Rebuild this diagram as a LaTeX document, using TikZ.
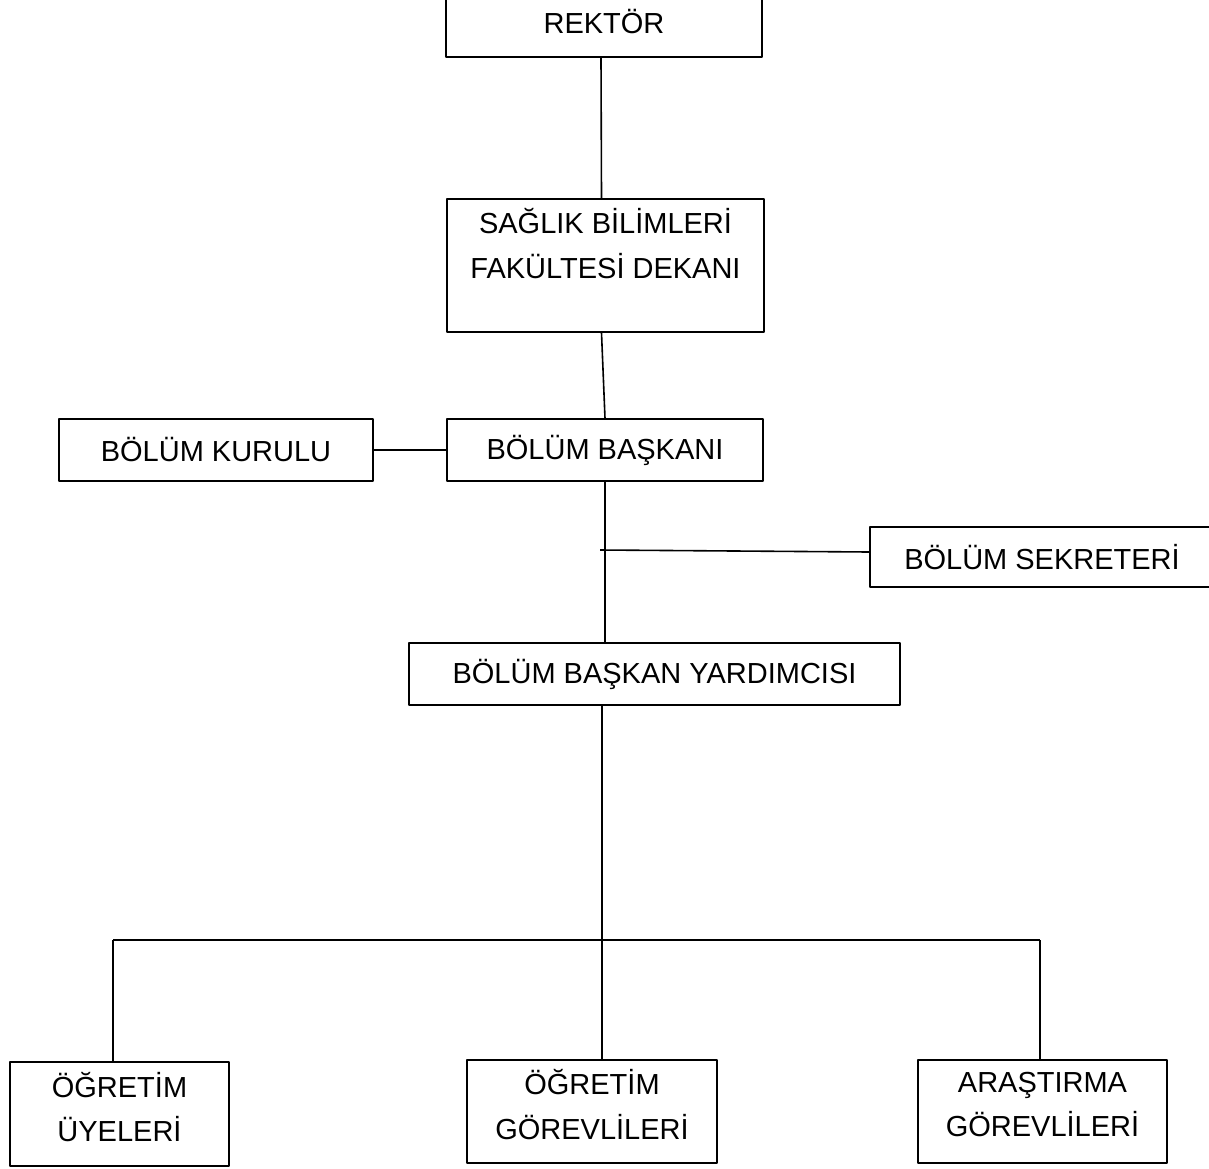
\documentclass[tikz,border=0pt]{standalone}
\usepackage{fontspec}
\setmainfont{Liberation Sans}
\begin{document}
\begin{tikzpicture}[line join=bevel,line width=1.6bp,
  box/.style={draw,inner sep=0pt,align=center,font=\fontsize{29.1}{44.5}\selectfont},
  lowbox/.style={box,text depth=14bp},
  ]
\useasboundingbox (0bp,0bp) rectangle (1209bp,-1169bp);
\clip (0bp,0bp) rectangle (1209bp,-1169bp);
%%
\node (rektor) at (604bp,-22bp) [box,minimum width=316bp,minimum height=70bp] {REKTÖR};
  \node (dekan) at (605.5bp,-265.5bp) [box,minimum width=317bp,minimum height=133bp] {SAĞLIK BİLİMLERİ\\FAKÜLTESİ DEKANI\\ };
  \node (baskan) at (605bp,-450bp) [box,minimum width=316bp,minimum height=62bp] {BÖLÜM BAŞKANI};
  \node (kurul) at (216bp,-450bp) [box,minimum width=314bp,minimum height=62bp] {BÖLÜM KURULU};
  \node (sekreter) at (1042bp,-557bp) [box,minimum width=344bp,minimum height=60bp] {BÖLÜM SEKRETERİ};
  \node (yardimci) at (654.5bp,-674bp) [box,minimum width=491bp,minimum height=62bp] {BÖLÜM BAŞKAN YARDIMCISI};
  \node (uyeler) at (119.5bp,-1114bp) [lowbox,minimum width=219bp,minimum height=104bp] {ÖĞRETİM\\ÜYELERİ};
  \node (gorevli) at (592bp,-1111.5bp) [lowbox,minimum width=250bp,minimum height=103bp] {ÖĞRETİM\\GÖREVLİLERİ};
  \node (arastirma) at (1042.5bp,-1111.5bp) [lowbox,minimum width=249bp,minimum height=103bp] {ARAŞTIRMA\\GÖREVLİLERİ};
  \coordinate (hub) at (602bp,-940bp);
  \coordinate (hubl) at (113bp,-940bp);
  \coordinate (hubr) at (1040bp,-940bp);
  \coordinate (sek) at (600bp,-550bp);
%
  \draw ([xshift=-3bp]rektor.south) -- ([xshift=-4bp]dekan.north);
  \draw ([xshift=-4bp]dekan.south) -- (baskan.north);
  \draw (kurul) -- (baskan);
  \draw (baskan.south) -- (baskan.south |- yardimci.north);
  \draw (sek) -- ([yshift=5bp]sekreter.west);
  \draw (hub |- yardimci.south) -- (hub);
  \draw (hubl) -- (hubr);
  \draw (hubl) -- (hubl |- uyeler.north);
  \draw (hub) -- (hub |- gorevli.north);
  \draw (hubr) -- (hubr |- arastirma.north);
%
\end{tikzpicture}
\end{document}
